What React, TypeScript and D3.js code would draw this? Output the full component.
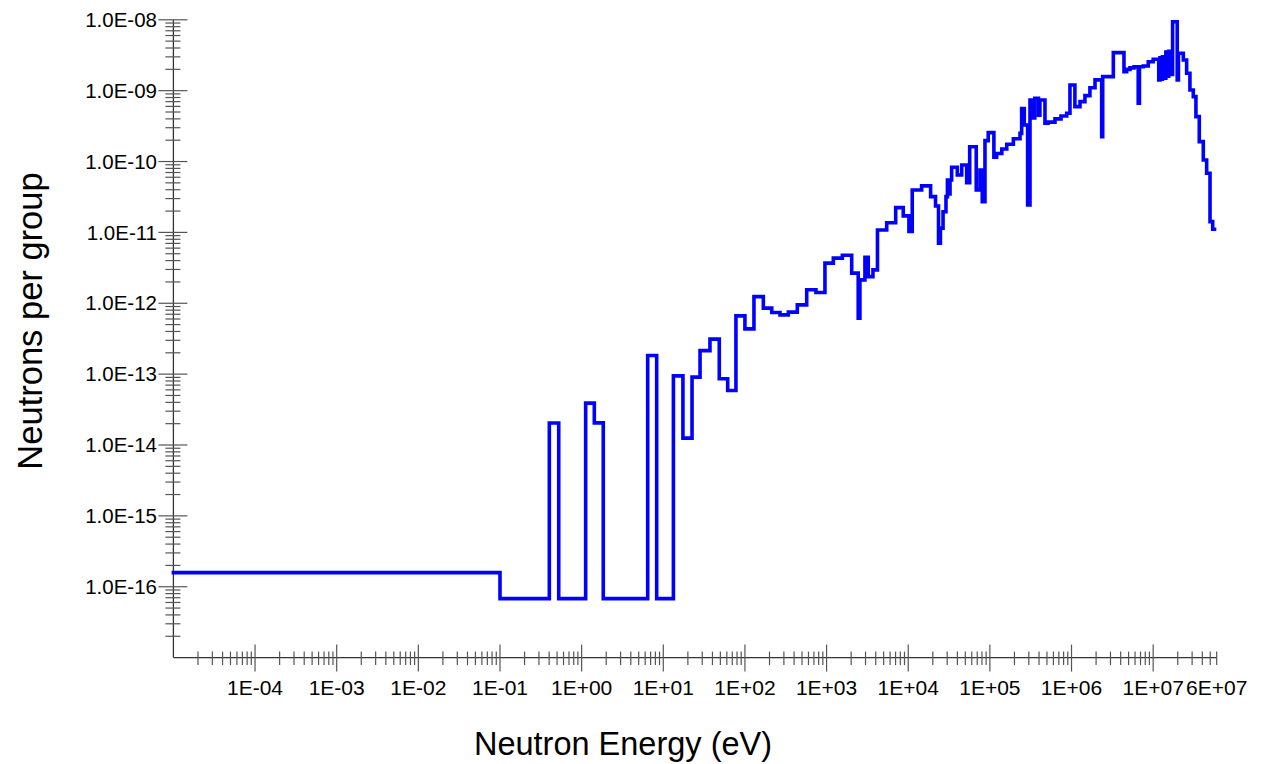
import React from "react";
import * as d3 from "d3";

// Group lower edges (eV) and the final upper edge
const groupEdges: number[] = [
  1e-5, 0.1, 0.402, 0.524, 1.12, 1.43, 1.84, 6.44, 8.3, 13.3,
  17.4, 22.5, 28.2, 37.3, 48.5, 61.5, 77.6, 100, 129, 168,
  213, 269, 340, 438, 571, 741, 955, 1210, 1560, 2030,
  2440, 2560, 2950, 3240, 3700, 4200, 5450, 7020, 8690, 10200,
  11200, 14600, 18800, 21600, 23500, 24800, 26700, 29000, 30200, 31500,
  32500, 34000, 39900, 45200, 52000, 56600, 68100, 75700, 80700, 87100,
  95500, 1.12e5, 1.21e5, 1.4e5, 1.61e5, 1.94e5, 2.34e5, 2.45e5, 2.64e5, 2.9e5,
  3.1e5, 3.4e5, 3.55e5, 3.94e5, 4.1e5, 4.73e5, 5.15e5, 6.27e5, 7.43e5, 8.73e5,
  9.57e5, 1.1e6, 1.27e6, 1.46e6, 1.68e6, 1.94e6, 2.34e6, 2.41e6, 3.25e6, 4.39e6,
  4.73e6, 5.2e6, 5.82e6, 6.56e6, 6.79e6, 7.56e6, 8.71e6, 1.0e7, 1.17e7, 1.21e7,
  1.25e7, 1.3e7, 1.36e7, 1.43e7, 1.49e7, 1.55e7, 1.61e7, 1.73e7, 1.97e7, 2.04e7,
  2.34e7, 2.57e7, 2.82e7, 3.1e7, 3.34e7, 3.67e7, 4.11e7, 4.52e7, 4.97e7, 5.36e7,
  5.64e7,
];

// Neutrons per group, one value per group
const groupValues: number[] = [
  1.58e-16, 6.8e-17, 2.04e-14, 6.8e-17, 3.9e-14, 2.05e-14, 6.8e-17, 1.83e-13, 6.8e-17, 9.46e-14,
  1.25e-14, 9.08e-14, 2.15e-13, 3.12e-13, 8.59e-14, 5.87e-14, 6.64e-13, 4.35e-13, 1.24e-12, 8.53e-13,
  7.4e-13, 6.86e-13, 7.49e-13, 9.49e-13, 1.55e-12, 1.42e-12, 3.68e-12, 4.33e-12, 4.77e-12, 2.66e-12,
  6.16e-13, 2.14e-12, 4.47e-12, 2.38e-12, 2.96e-12, 1.08e-11, 1.37e-11, 2.24e-11, 1.71e-11, 1.03e-11,
  3.97e-11, 4.53e-11, 3.2e-11, 2.36e-11, 7.05e-12, 1.15e-11, 1.96e-11, 3.2e-11, 5.5e-11, 3.5e-11,
  5.5e-11, 8.31e-11, 6.47e-11, 8.95e-11, 5.04e-11, 1.62e-10, 3.97e-11, 7.6e-11, 2.72e-11, 1.97e-10,
  2.56e-10, 1.15e-10, 1.3e-10, 1.5e-10, 1.75e-10, 2.1e-10, 2.5e-10, 5.6e-10, 3.28e-10, 2.44e-11,
  7.4e-10, 4.12e-10, 7.81e-10, 4.5e-10, 7.4e-10, 3.47e-10, 3.6e-10, 4.0e-10, 4.4e-10, 4.8e-10,
  1.2e-9, 5.95e-10, 7.0e-10, 8.5e-10, 1.1e-9, 1.42e-9, 2.25e-10, 1.58e-9, 3.44e-9, 1.85e-9,
  2.0e-9, 2.1e-9, 2.18e-9, 6.64e-10, 2.18e-9, 2.23e-9, 2.56e-9, 2.77e-9, 1.42e-9, 2.9e-9,
  1.45e-9, 3.0e-9, 1.5e-9, 3.5e-9, 1.6e-9, 3.6e-9, 1.7e-9, 9.4e-9, 1.42e-9, 3.37e-9,
  2.71e-9, 1.76e-9, 1.02e-9, 8.23e-10, 4.3e-10, 1.91e-10, 1.05e-10, 6.84e-11, 1.42e-11, 1.11e-11,
];

const xTickValues: number[] = [1e-4, 1e-3, 1e-2, 1e-1, 1, 10, 100, 1e3, 1e4, 1e5, 1e6, 1e7, 6e7];
const xTickLabels: string[] = [
  "1E-04", "1E-03", "1E-02", "1E-01", "1E+00", "1E+01", "1E+02", "1E+03",
  "1E+04", "1E+05", "1E+06", "1E+07", "6E+07",
];
const yTickValues: number[] = [1e-8, 1e-9, 1e-10, 1e-11, 1e-12, 1e-13, 1e-14, 1e-15, 1e-16];
const yTickLabels: string[] = [
  "1.0E-08", "1.0E-09", "1.0E-10", "1.0E-11", "1.0E-12", "1.0E-13", "1.0E-14", "1.0E-15", "1.0E-16",
];

const xTitle = "Neutron Energy (eV)";
const yTitle = "Neutrons per group";

const W = 1263;
const H = 764;
const FONT = "'Liberation Sans', Arial, sans-serif";

export default function App() {
  const x = d3.scaleLog().domain([1e-5, 6e7]).range([173.4, 1216.7]);
  const y = d3.scaleLog().domain([1e-17, 1e-8]).range([657.6, 19.8]);

  const pts: [number, number][] = groupValues.map((v, i) => [groupEdges[i], v]);
  pts.push([groupEdges[groupEdges.length - 1], groupValues[groupValues.length - 1]]);
  const line = d3
    .line<[number, number]>()
    .x((d) => x(d[0]))
    .y((d) => y(d[1]))
    .curve(d3.curveStepAfter);

  // minor ticks
  const xMinor: number[] = [];
  for (let k = -5; k <= 7; k++) {
    for (let m = 2; m <= 9; m++) {
      const v = m * Math.pow(10, k);
      if (v > 1.0001e-5 && v <= 6.0001e7) xMinor.push(v);
    }
  }
  const yMinor: number[] = [];
  for (let k = -17; k <= -9; k++) {
    for (let m = 2; m <= 9; m++) yMinor.push(m * Math.pow(10, k));
  }
  const xMajor = xTickValues.filter((v) => Math.abs(Math.log10(v) - Math.round(Math.log10(v))) < 1e-6);

  const axisY = y(1e-17);
  const axisX = x(1e-5);

  return (
    <svg
      width={W}
      height={H}
      style={{ position: "absolute", left: 0, top: 0, background: "#fff" }}
      fontFamily={FONT}
    >
      <rect x={0} y={0} width={W} height={H} fill="#fff" />
      {/* axes lines */}
      <line x1={axisX} x2={x(6e7)} y1={axisY} y2={axisY} stroke="#333" strokeWidth={1.3} />
      <line x1={axisX} x2={axisX} y1={y(1e-8)} y2={axisY} stroke="#333" strokeWidth={1.3} />
      {/* x ticks */}
      {xMinor.map((v, i) => (
        <line key={"xm" + i} x1={x(v)} x2={x(v)} y1={axisY - 6} y2={axisY + 7.5} stroke="#555" strokeWidth={1.2} />
      ))}
      {xMajor.map((v, i) => (
        <line key={"xM" + i} x1={x(v)} x2={x(v)} y1={axisY - 13} y2={axisY + 14} stroke="#555" strokeWidth={1.2} />
      ))}
      {xTickValues.map((v, i) => (
        <text key={"xl" + i} x={x(v)} y={695} textAnchor="middle" fontSize={21} fill="#000">
          {xTickLabels[i]}
        </text>
      ))}
      {/* y ticks */}
      {yMinor.map((v, i) => (
        <line key={"ym" + i} x1={axisX - 8} x2={axisX + 7} y1={y(v)} y2={y(v)} stroke="#555" strokeWidth={1.2} />
      ))}
      {yTickValues.map((v, i) => (
        <line key={"yM" + i} x1={axisX - 15} x2={axisX + 14} y1={y(v)} y2={y(v)} stroke="#555" strokeWidth={1.2} />
      ))}
      {yTickValues.map((v, i) => (
        <text key={"yl" + i} x={157} y={y(v)} dy="0.35em" textAnchor="end" fontSize={20.5} fill="#000">
          {yTickLabels[i]}
        </text>
      ))}
      {/* data */}
      <path
        d={line(pts) || ""}
        fill="none"
        stroke="#0000FF"
        strokeWidth={3.6}
        strokeLinejoin="miter"
        strokeLinecap="square"
      />
      {/* titles */}
      <text x={623} y={755} textAnchor="middle" fontSize={32.5} fill="#000">
        {xTitle}
      </text>
      <text
        transform={`translate(42,321) rotate(-90)`}
        textAnchor="middle"
        fontSize={34.5}
        fill="#000"
      >
        {yTitle}
      </text>
    </svg>
  );
}
